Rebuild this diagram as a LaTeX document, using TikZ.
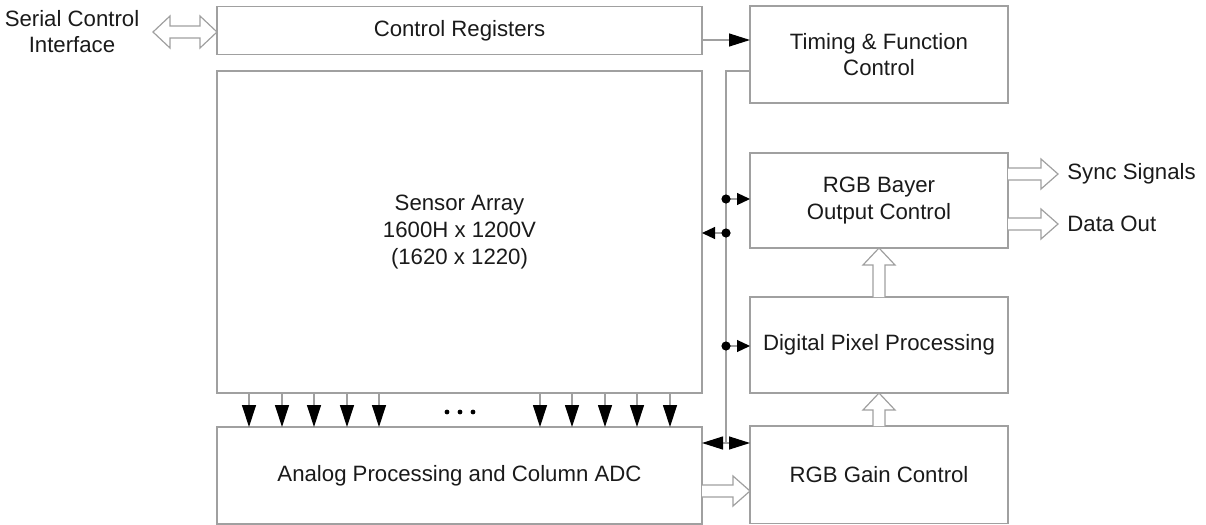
\documentclass[tikz,border=0pt]{standalone}
\usepackage{fontspec}
\setmainfont{Liberation Sans}
\usetikzlibrary{arrows.meta,calc}
\definecolor{edge}{HTML}{A0A0A0}
\definecolor{ink}{HTML}{1A1A1A}
\newcommand{\fatright}[2]{\draw[fat] let \p1=(#1), \p2=(#2) in
  (\x1,\y1+3pt) -- (\x2-8.5pt,\y1+3pt) -- (\x2-8.5pt,\y1+7.5pt) -- (\x2,\y1)
  -- (\x2-8.5pt,\y1-7.5pt) -- (\x2-8.5pt,\y1-3pt) -- (\x1,\y1-3pt);}
\newcommand{\fatup}[2]{\draw[fat] let \p1=(#1), \p2=(#2) in
  (\x1-3pt,\y1) -- (\x1-3pt,\y2-8.5pt) -- (\x1-8pt,\y2-8.5pt) -- (\x1,\y2)
  -- (\x1+8pt,\y2-8.5pt) -- (\x1+3pt,\y2-8.5pt) -- (\x1+3pt,\y1);}
\newcommand{\fatboth}[2]{\draw[fat] let \p1=(#1), \p2=(#2) in
  (\x1,\y1) -- (\x1+8.5pt,\y1+8pt) -- (\x1+8.5pt,\y1+3pt) -- (\x2-8.5pt,\y1+3pt)
  -- (\x2-8.5pt,\y1+8pt) -- (\x2,\y1) -- (\x2-8.5pt,\y1-8pt) -- (\x2-8.5pt,\y1-3pt)
  -- (\x1+8.5pt,\y1-3pt) -- (\x1+8.5pt,\y1-8pt) -- cycle;}
\begin{document}
\begin{tikzpicture}[x=0.5pt,y=-0.5pt,
  txt/.style={text=ink, font=\fontsize{11.1}{13.3}\selectfont, align=center},
  box/.style={txt, draw=edge, line width=0.6pt, rectangle, inner sep=0pt, outer sep=0pt},
  gline/.style={draw=edge, line width=0.6pt},
  sig/.style={gline, -{Triangle[length=10.5pt,width=6.5pt,black]}},
  colarrow/.style={gline, -{Triangle[length=11pt,width=7pt,black]}},
  dotarrow/.style={gline, -{Triangle[length=6.5pt,width=6pt,black]}},
  busdot/.style={fill=black},
  fat/.style={draw=edge, line width=0.6pt, fill=white, line join=miter}]
\useasboundingbox (0,0) rectangle (1206,525);

% blocks
\node[box, minimum width=242.5pt, minimum height=24pt] (ctrl) at (459.5,30.5) {Control Registers};
\node[box, minimum width=242.5pt, minimum height=161pt] (sensor) at (459.5,232) {Sensor Array\\1600H x 1200V\\(1620 x 1220)};
\node[box, minimum width=242.5pt, minimum height=48.5pt] (analog) at (459.5,475.5) {Analog Processing and Column ADC};
\node[box, minimum width=129pt, minimum height=48.5pt] (timing) at (879,54.5) {Timing \& Function\\Control};
\node[box, minimum width=129pt, minimum height=47.5pt] (bayer) at (879,200.5) {RGB Bayer\\Output Control};
\node[box, minimum width=129pt, minimum height=48pt] (digital) at (879,345) {Digital Pixel Processing};
\node[box, minimum width=129pt, minimum height=48.75pt] (gain) at (879,474.75) {RGB Gain Control};

% external labels
\node[txt, inner sep=0pt] (sci) at (72,31.5) {Serial Control\\Interface};
\node[txt, inner sep=0pt, anchor=west] (sync) at (1067,174) {Sync Signals};
\node[txt, inner sep=0pt, anchor=west] (dout) at (1067,224) {Data Out};

% helper coordinates
\coordinate (sciTip) at (153,32);
\coordinate (crY) at (0,40);
\coordinate (busTop) at (726,71);
\coordinate (busBot) at (726,443);
\coordinate (d1) at (726,199);
\coordinate (d2) at (726,233);
\coordinate (d3) at (726,346);
\coordinate (faY) at (0,491);
\coordinate (syncTip) at (1058,174);
\coordinate (dataTip) at (1058,224);

% serial interface
\fatboth{sciTip}{ctrl.west |- sciTip}

% control registers -> timing
\draw[sig] (ctrl.east |- crY) -- (timing.west |- crY);

% bus
\draw[gline] (timing.west |- busTop) -- (busTop) -- (busBot);
\draw[sig] (busBot) -- (analog.east |- busBot);
\draw[sig] (busBot) -- (gain.west |- busBot);
\draw[dotarrow] (d1) -- (bayer.west |- d1);
\draw[dotarrow] (d2) -- (sensor.east |- d2);
\draw[dotarrow] (d3) -- (digital.west |- d3);
\fill[busdot] (d1) circle (2.3pt);
\fill[busdot] (d2) circle (2.3pt);
\fill[busdot] (d3) circle (2.3pt);

% column arrows
\foreach \cx [count=\i] in {249,282,314,347,379,540,572,605,637,670} {
  \coordinate (c\i) at (\cx,0);
  \draw[colarrow] (sensor.south -| c\i) -- (analog.north -| c\i);
}
\fill (447,412) circle (1.2pt);
\fill (460,412) circle (1.2pt);
\fill (473,412) circle (1.2pt);

% wide data arrows
\fatright{analog.east |- faY}{gain.west |- faY}
\fatup{gain.north}{digital.south}
\fatup{digital.north}{bayer.south}
\fatright{bayer.east |- syncTip}{syncTip}
\fatright{bayer.east |- dataTip}{dataTip}
\end{tikzpicture}
\end{document}
